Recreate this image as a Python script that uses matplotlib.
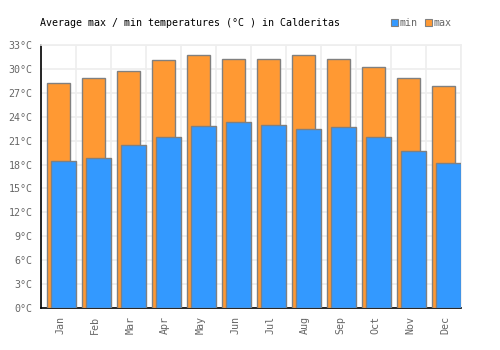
import matplotlib
matplotlib.use("Agg")
import matplotlib.pyplot as plt
from matplotlib.patches import Rectangle
import numpy as np

months = ["Jan", "Feb", "Mar", "Apr", "May", "Jun", "Jul", "Aug", "Sep", "Oct", "Nov", "Dec"]
t_max = [28.2, 28.9, 29.8, 31.1, 31.8, 31.2, 31.3, 31.7, 31.2, 30.2, 28.8, 27.9]
t_min = [18.4, 18.8, 20.4, 21.5, 22.8, 23.3, 22.9, 22.5, 22.7, 21.4, 19.7, 18.2]
y_ticks = list(range(0, 34, 3))

FONT = "DejaVu Sans Mono"
FS = 7.2
ORANGE = "#ff9933"
BLUE = "#3399ff"
EDGE = "#808080"
GRID = "#eeeeee"
TXT = "#666666"

fig = plt.figure(figsize=(5, 3.5), dpi=100)
ax = fig.add_axes([41 / 500, 42 / 350, 420 / 500, 263 / 350])

x = np.arange(len(months))
ax.bar(x + 0.166, t_max, width=0.67, align="edge", color=ORANGE,
       edgecolor=EDGE, linewidth=1.0, zorder=3, label="max")
ax.bar(x + 0.29, t_min, width=0.71, align="edge", color=BLUE,
       edgecolor=EDGE, linewidth=1.0, zorder=4, label="min")

ax.set_xlim(0, 12)
ax.set_ylim(0, 33)
ax.set_yticks(y_ticks)
ax.set_yticklabels([f"{v}°C" for v in y_ticks], fontfamily=FONT, fontsize=FS, color=TXT)
ax.set_xticks(x + 0.55)
ax.set_xticklabels(months, rotation=90, fontfamily=FONT, fontsize=FS, color=TXT)
ax.set_xticks(np.arange(0, 13), minor=True)
ax.tick_params(axis="both", which="both", length=0)
ax.tick_params(axis="y", pad=6)
ax.tick_params(axis="x", pad=6)

ax.grid(False)
ax.yaxis.grid(True, color=GRID, linewidth=1.2, zorder=0)
ax.xaxis.grid(True, which="minor", color=GRID, linewidth=1.2, zorder=0)
ax.set_axisbelow(True)

for s in ["top", "right"]:
    ax.spines[s].set_color(GRID)
    ax.spines[s].set_linewidth(1.2)
for s in ["left", "bottom"]:
    ax.spines[s].set_color("black")
    ax.spines[s].set_linewidth(1.2)

fig.text(40 / 500, 1 - 23 / 350, "Average max / min temperatures (°C ) in Calderitas",
         fontfamily=FONT, fontsize=FS, color="black", va="center", ha="left")

# legend
for (x0, lab, col) in [(391, "min", BLUE), (425, "max", ORANGE)]:
    fig.patches.append(Rectangle((x0 / 500, 1 - 26 / 350), 7 / 500, 7 / 350,
                                 transform=fig.transFigure, facecolor=col,
                                 edgecolor=EDGE, linewidth=0.8))
    fig.text((x0 + 9) / 500, 1 - 23 / 350, lab, fontfamily=FONT, fontsize=FS,
             color=TXT, va="center", ha="left")

fig.savefig("out.png", dpi=100, facecolor="white")
